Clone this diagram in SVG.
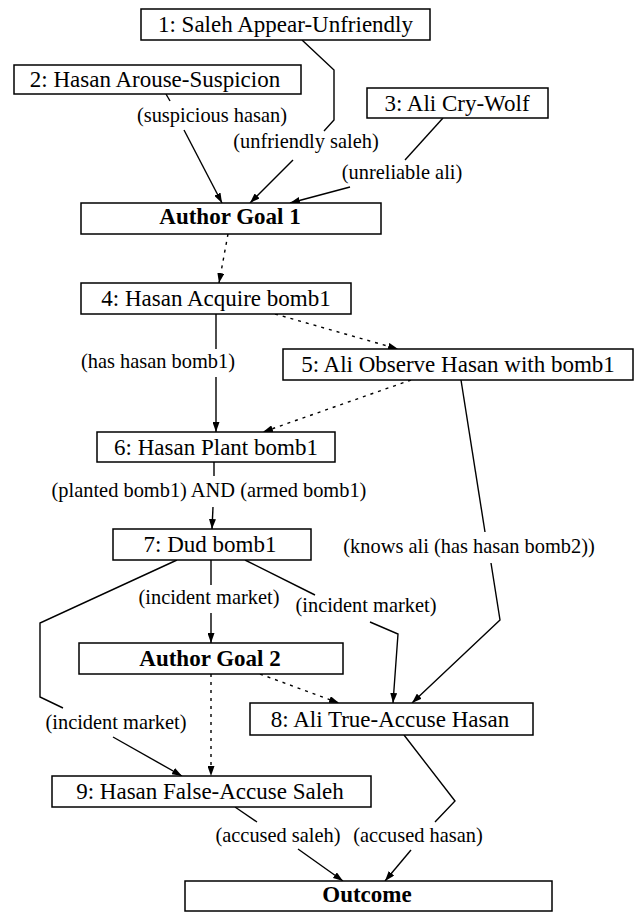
<svg xmlns="http://www.w3.org/2000/svg" width="637" height="912" viewBox="0 0 637 912">
<style>
.box{fill:#fff;stroke:#000;stroke-width:1.5}
.nt{font-family:"Liberation Serif","Times New Roman",serif;font-size:23px;text-anchor:middle;fill:#000}
.bt{font-family:"Liberation Serif","Times New Roman",serif;font-size:23px;font-weight:bold;text-anchor:middle;fill:#000}
.el{font-family:"Liberation Serif","Times New Roman",serif;font-size:20.4px;text-anchor:middle;fill:#000}
.e{fill:none;stroke:#000;stroke-width:1.4}
.d{fill:none;stroke:#000;stroke-width:1.4;stroke-dasharray:3,5}
</style>
<defs>
<marker id="ah" markerWidth="10" markerHeight="7" refX="10" refY="3.5" orient="auto" markerUnits="userSpaceOnUse">
<path d="M0,0 L10,3.5 L0,7 z" fill="#000" stroke="none"/>
</marker>
</defs>
<rect width="637" height="912" fill="#fff"/>
<g id="connectors">
<!-- 1 -> AG1 -->
<polyline class="e" points="302,40 334,70 334,120 324,131"/>
<line class="e" x1="293" y1="160" x2="250" y2="203" marker-end="url(#ah)"/>
<text class="el" x="306" y="148">(unfriendly saleh)</text>
<!-- 2 -> AG1 -->
<line class="e" x1="166" y1="94" x2="170" y2="101"/>
<line class="e" x1="184" y1="130" x2="222" y2="203" marker-end="url(#ah)"/>
<text class="el" x="212" y="122">(suspicious hasan)</text>
<!-- 3 -> AG1 -->
<line class="e" x1="443" y1="118" x2="405" y2="160"/>
<line class="e" x1="350" y1="187" x2="290" y2="203" marker-end="url(#ah)"/>
<text class="el" x="402" y="179">(unreliable ali)</text>
<!-- AG1 -> 4 -->
<line class="d" x1="228" y1="234" x2="219" y2="283" marker-end="url(#ah)"/>
<!-- 4 -> 5 -->
<line class="d" x1="275" y1="314" x2="398" y2="349" marker-end="url(#ah)"/>
<!-- 5 -> 6 -->
<line class="d" x1="411" y1="380" x2="263" y2="432" marker-end="url(#ah)"/>
<!-- 4 -> 6 -->
<line class="e" x1="216" y1="314" x2="216" y2="349"/>
<line class="e" x1="216" y1="377" x2="216" y2="432" marker-end="url(#ah)"/>
<text class="el" x="158" y="368">(has hasan bomb1)</text>
<!-- 6 -> 7 -->
<line class="e" x1="214" y1="462" x2="214" y2="476"/>
<line class="e" x1="213" y1="507" x2="212" y2="529" marker-end="url(#ah)"/>
<text class="el" x="209" y="497">(planted bomb1) AND (armed bomb1)</text>
<!-- 7 -> AG2 -->
<line class="e" x1="211" y1="560" x2="211" y2="585"/>
<line class="e" x1="211" y1="613" x2="211" y2="643" marker-end="url(#ah)"/>
<text class="el" x="209" y="604">(incident market)</text>
<!-- 7 -> 8 -->
<line class="e" x1="245" y1="560" x2="315" y2="595"/>
<polyline class="e" points="370,622 398,634 393,703" marker-end="url(#ah)"/>
<text class="el" x="366" y="612">(incident market)</text>
<!-- 5 -> 8 -->
<line class="e" x1="461" y1="380" x2="485" y2="532"/>
<polyline class="e" points="491,563 500,620 412,703" marker-end="url(#ah)"/>
<text class="el" x="469" y="553">(knows ali (has hasan bomb2))</text>
<!-- 7 -> 9 -->
<polyline class="e" points="177,560 40,623 40,697 63,708"/>
<line class="e" x1="113" y1="737" x2="182" y2="776" marker-end="url(#ah)"/>
<text class="el" x="116" y="729">(incident market)</text>
<!-- AG2 -> 9 -->
<line class="d" x1="211" y1="674" x2="211" y2="776" marker-end="url(#ah)"/>
<!-- AG2 -> 8 -->
<line class="d" x1="260" y1="674" x2="339" y2="703" marker-end="url(#ah)"/>
<!-- 9 -> Outcome -->
<line class="e" x1="235" y1="807" x2="257" y2="822"/>
<line class="e" x1="298" y1="849" x2="343" y2="881" marker-end="url(#ah)"/>
<text class="el" x="278" y="842">(accused saleh)</text>
<!-- 8 -> Outcome -->
<polyline class="e" points="404,735 455,801 435,822"/>
<line class="e" x1="411" y1="850" x2="385" y2="881" marker-end="url(#ah)"/>
<text class="el" x="418" y="842">(accused hasan)</text>
</g>
<g id="n1"><rect class="box" x="141" y="9" width="289" height="31"/><text class="nt" x="285.5" y="32">1: Saleh Appear-Unfriendly</text></g>
<g id="n2"><rect class="box" x="14" y="65" width="287" height="29"/><text class="nt" x="155" y="87">2: Hasan Arouse-Suspicion</text></g>
<g id="n3"><rect class="box" x="367" y="88" width="181" height="30"/><text class="nt" x="457" y="111">3: Ali Cry-Wolf</text></g>
<g id="ag1"><rect class="box" x="81" y="203" width="300" height="31"/><text class="bt" x="230" y="224">Author Goal 1</text></g>
<g id="n4"><rect class="box" x="81" y="283" width="270" height="31"/><text class="nt" x="216" y="306">4: Hasan Acquire bomb1</text></g>
<g id="n5"><rect class="box" x="283" y="349" width="350" height="31"/><text class="nt" x="458" y="372">5: Ali Observe Hasan with bomb1</text></g>
<g id="n6"><rect class="box" x="97" y="432" width="238" height="30"/><text class="nt" x="216" y="455">6: Hasan Plant bomb1</text></g>
<g id="n7"><rect class="box" x="113" y="529" width="198" height="31"/><text class="nt" x="210" y="552">7: Dud bomb1</text></g>
<g id="ag2"><rect class="box" x="79" y="643" width="264" height="31"/><text class="bt" x="210" y="666">Author Goal 2</text></g>
<g id="n8"><rect class="box" x="250" y="703" width="283" height="32"/><text class="nt" x="390" y="727">8: Ali True-Accuse Hasan</text></g>
<g id="n9"><rect class="box" x="52" y="776" width="319" height="31"/><text class="nt" x="210" y="799">9: Hasan False-Accuse Saleh</text></g>
<g id="outcome"><rect class="box" x="185" y="881" width="367" height="30"/><text class="bt" x="367" y="902">Outcome</text></g>
</svg>
